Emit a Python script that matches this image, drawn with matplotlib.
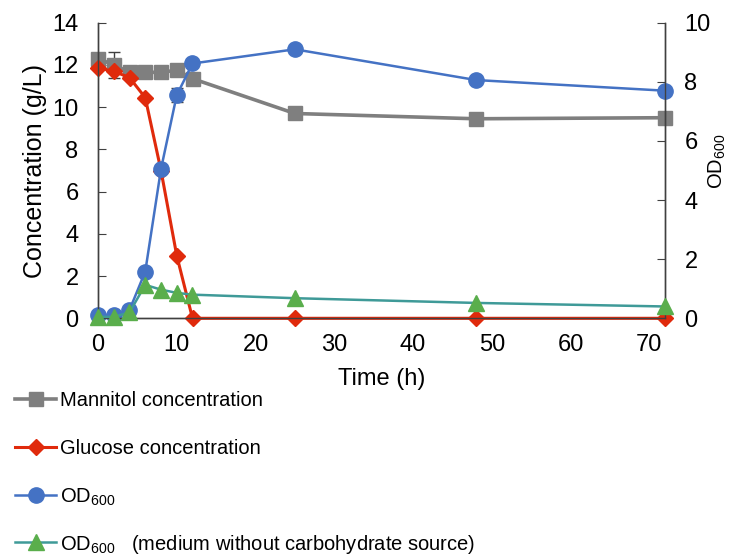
import matplotlib
matplotlib.use("Agg")
import matplotlib.pyplot as plt

plt.rcParams['font.family'] = ['Liberation Sans', 'DejaVu Sans']
plt.rcParams['mathtext.default'] = 'regular'

# time points (h)
time = [0, 2, 4, 6, 8, 10, 12, 25, 48, 72]
# left axis, g/L
mannitol = [12.3, 12.0, 11.65, 11.65, 11.65, 11.75, 11.35, 9.7, 9.45, 9.5]
mannitol_err = [0, 0.62, 0, 0, 0, 0, 0, 0, 0, 0]
glucose = [11.85, 11.7, 11.4, 10.45, 7.0, 2.97, 0, 0, 0, 0]
# right axis, OD600
od = [0.1, 0.1, 0.28, 1.58, 5.05, 7.55, 8.62, 9.1, 8.06, 7.7]
od_err = [0, 0, 0, 0, 0, 0.24, 0, 0, 0, 0]
od_nocarb = [0.05, 0.05, 0.2, 1.13, 0.97, 0.86, 0.8, 0.68, 0.52, 0.4]

labels = ["Mannitol concentration", "Glucose concentration",
          "OD$_{600}$", "OD$_{600}$   (medium without carbohydrate source)"]

grey = "#7f7f7f"
red = "#e02a0c"
blue = "#4472c4"
teal = "#3f9a98"
green = "#5aae4c"
spine = "#404040"

fig = plt.figure(figsize=(7.29, 5.6), dpi=100)
ax = fig.add_axes([98/729, 1-318.3/560, 567/729, 295.6/560])
ax2 = ax.twinx()

ax.errorbar(time, mannitol, yerr=mannitol_err, fmt='none', ecolor=spine,
            elinewidth=1, capsize=4, zorder=1, clip_on=False)
l1, = ax.plot(time, mannitol, color=grey, lw=2.6, marker='s', ms=10,
              zorder=2, clip_on=False)
l2, = ax.plot(time, glucose, color=red, lw=2.2, marker='D', ms=8,
              zorder=3, clip_on=False)

ax2.errorbar(time, od, yerr=od_err, fmt='none', ecolor=spine,
             elinewidth=1, capsize=4, zorder=1, clip_on=False)
l3, = ax2.plot(time, od, color=blue, lw=1.8, marker='o', ms=11,
               zorder=2, clip_on=False)
l4, = ax2.plot(time, od_nocarb, color=teal, lw=1.8, marker='^', ms=11,
               markerfacecolor=green, markeredgecolor=green,
               zorder=3, clip_on=False)

ax.set_xlim(0, 72)
ax.set_ylim(0, 14)
ax2.set_ylim(0, 10)
ax.set_xticks(range(0, 71, 10))
ax.set_yticks(range(0, 15, 2))
ax2.set_yticks(range(0, 11, 2))

for a in (ax, ax2):
    a.spines['top'].set_visible(False)
    for s in ('left', 'right', 'bottom'):
        a.spines[s].set_color(spine)
        a.spines[s].set_linewidth(1.0)
ax.tick_params(axis='y', direction='in', length=6, color=spine,
               labelsize=17, pad=14)
ax2.tick_params(axis='y', direction='in', length=6, color=spine,
                labelsize=17, pad=14)
ax.tick_params(axis='x', length=0, labelsize=17, pad=11)

ax.set_xlabel("Time (h)", fontsize=17, labelpad=9)
ax.set_ylabel("Concentration (g/L)", fontsize=18, labelpad=4)
ax2.set_ylabel("OD$_{600}$", fontsize=14.5)
ax2.yaxis.set_label_coords(1.074, 0.53)

# one legend per row so the rows sit evenly like the reference
row_y = [401, 449, 497, 544]
for h, lab, y in zip([l1, l2, l3, l4], labels, row_y):
    leg = fig.legend([h], [lab], loc='center left',
                     bbox_to_anchor=(15/729, 1-y/560), frameon=False,
                     fontsize=14.5, handlelength=2.05, handletextpad=0.2,
                     borderpad=0, borderaxespad=0)

fig.savefig("out.png", dpi=100)
